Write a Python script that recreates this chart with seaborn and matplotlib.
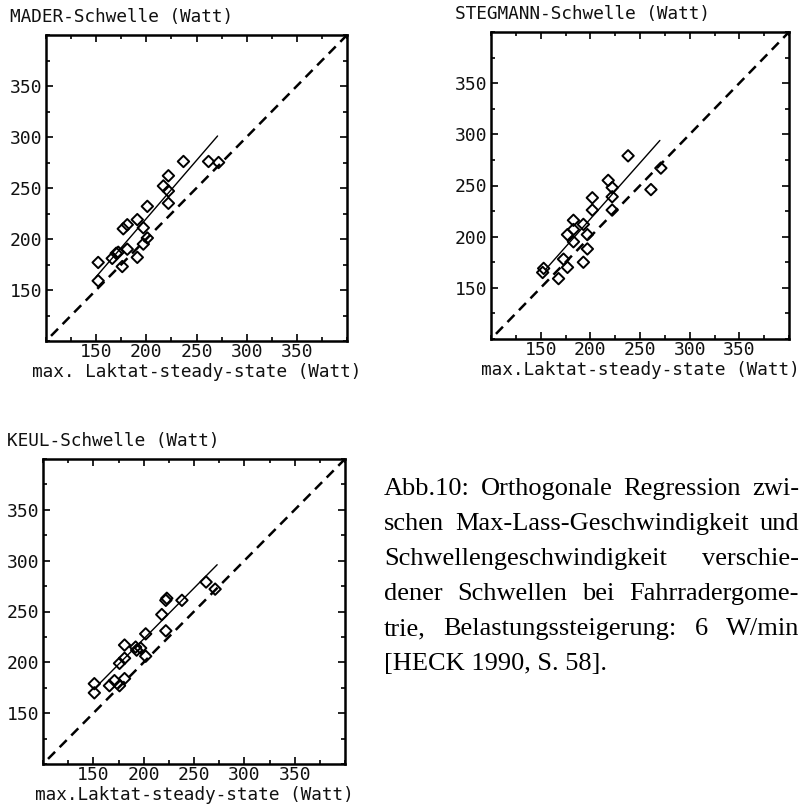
import matplotlib
matplotlib.use("Agg")
import matplotlib.pyplot as plt
import seaborn as sns
import pandas as pd
from matplotlib.ticker import FixedLocator, MultipleLocator

# Maximal lactate steady state (W) vs. threshold power (W), three threshold concepts
mader_mlss = [152, 152, 166, 170, 172, 176, 177, 181, 181, 191, 191, 197, 197, 201, 201, 217, 222, 222, 222, 237, 262, 272]
mader_thr = [177, 159, 181, 186, 187, 173, 210, 214, 190, 182, 219, 211, 195, 201, 232, 252, 262, 247, 235, 276, 276, 275]
mader_fit_x = [150, 271]
mader_fit_y = [163, 301]

stegmann_mlss = [153, 152, 168, 173, 177, 177, 183, 183, 183, 193, 193, 197, 197, 202, 202, 218, 222, 222, 222, 238, 261, 271]
stegmann_thr = [169, 165, 159, 178, 170, 202, 216, 207, 195, 212, 175, 202, 188, 238, 226, 255, 248, 239, 226, 279, 246, 267]
stegmann_fit_x = [155, 270]
stegmann_fit_y = [168, 294]

keul_mlss = [151, 151, 166, 171, 176, 176, 181, 181, 181, 192, 193, 197, 202, 202, 218, 222, 223, 222, 238, 262, 271]
keul_thr = [179, 170, 177, 182, 177, 199, 204, 217, 184, 215, 212, 214, 206, 228, 247, 261, 263, 231, 261, 279, 272]
keul_fit_x = [152, 273]
keul_fit_y = [175, 296]

identity_range = [105, 400]
tick_values = [150, 200, 250, 300, 350]
axis_limits = [100, 400]

titles = ["MADER-Schwelle (Watt)", "STEGMANN-Schwelle (Watt)", "KEUL-Schwelle (Watt)"]
xlabels = ["max. Laktat-steady-state (Watt)", "max.Laktat-steady-state (Watt)",
           "max.Laktat-steady-state (Watt)"]

caption_lines = [
    "Abb.10: Orthogonale Regression zwi-",
    "schen Max-Lass-Geschwindigkeit und",
    "Schwellengeschwindigkeit verschie-",
    "dener Schwellen bei Fahrradergome-",
    "trie, Belastungssteigerung: 6 W/min",
    "[HECK 1990, S. 58].",
]

sns.set_theme(style="white")
plt.rcParams["font.family"] = ["DejaVu Sans Mono", "DejaVu Sans"]

W, H = 800, 807
fig = plt.figure(figsize=(W / 100, H / 100), dpi=100)
fig.patch.set_facecolor("white")


def px_axes(left, top, right, bottom):
    return fig.add_axes([left / W, 1 - bottom / H, (right - left) / W, (bottom - top) / H])


panels = [
    (px_axes(46, 35, 347, 341), mader_mlss, mader_thr, mader_fit_x, mader_fit_y),
    (px_axes(491, 32, 789, 339), stegmann_mlss, stegmann_thr, stegmann_fit_x, stegmann_fit_y),
    (px_axes(43, 459, 345, 764), keul_mlss, keul_thr, keul_fit_x, keul_fit_y),
]

for i, (ax, xs, ys, fx, fy) in enumerate(panels):
    df = pd.DataFrame({"mlss": xs, "thr": ys})
    # line of identity
    sns.lineplot(x=identity_range, y=identity_range, ax=ax, color="black",
                 linewidth=1.8, dashes=False, linestyle=(0, (4.0, 2.6)))
    # orthogonal regression line
    sns.lineplot(x=fx, y=fy, ax=ax, color="black", linewidth=1.0)
    sns.scatterplot(data=df, x="mlss", y="thr", ax=ax, marker="D", s=34,
                    facecolor="none", edgecolor="black", linewidth=1.4, zorder=3)

    ax.set_xlim(axis_limits)
    ax.set_ylim(axis_limits)
    ax.xaxis.set_major_locator(FixedLocator(tick_values))
    ax.yaxis.set_major_locator(FixedLocator(tick_values))
    ax.xaxis.set_minor_locator(MultipleLocator(25))
    ax.yaxis.set_minor_locator(MultipleLocator(25))
    ax.tick_params(which="both", direction="in", top=True, right=True,
                   bottom=True, left=True, color="black", width=1.2)
    ax.tick_params(which="major", length=5, labelsize=13, labelcolor="#111111")
    ax.tick_params(which="minor", length=3)
    ax.tick_params(axis="x", which="major", pad=1.5)
    ax.tick_params(axis="y", which="major", pad=2.5)
    for sp in ax.spines.values():
        sp.set_visible(True)
        sp.set_color("black")
        sp.set_linewidth(1.8)
    ax.set_xlabel(xlabels[i], fontsize=12.8, labelpad=1.5, color="#111111")
    ax.set_ylabel("")
    ax.annotate(titles[i], xy=(0, 1), xycoords="axes fraction",
                xytext=(-36, 18), textcoords="offset pixels",
                ha="left", va="center", fontsize=12.8, color="#111111")

# justified caption block
renderer = fig.canvas.get_renderer()
cap_kw = dict(fontsize=19, family="Liberation Serif", color="black", va="baseline")
x0, x1 = 384, 799
base0, step = 495, 35


def text_width(s):
    t = fig.text(0, 0, s, **cap_kw)
    w = t.get_window_extent(renderer).width
    t.remove()
    return w


for k, line in enumerate(caption_lines):
    yb = 1 - (base0 + k * step) / H
    words = line.split(" ")
    if k == len(caption_lines) - 1 or len(words) == 1:
        fig.text(x0 / W, yb, line, ha="left", **cap_kw)
        continue
    widths = [text_width(w) for w in words]
    gap = (x1 - x0 - sum(widths)) / (len(words) - 1)
    x = x0
    for w, wd in zip(words, widths):
        fig.text(x / W, yb, w, ha="left", **cap_kw)
        x += wd + gap

fig.savefig("out.png", dpi=100, facecolor="white")
